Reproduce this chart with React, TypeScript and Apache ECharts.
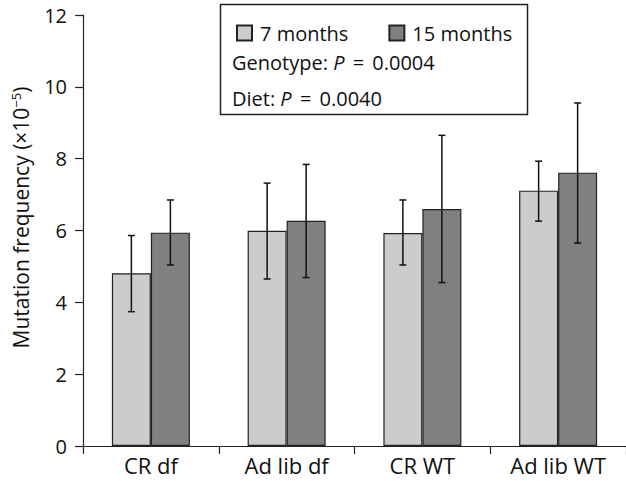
import React, { useEffect, useRef } from "react";
import * as echarts from "echarts";

const categories = ["CR df", "Ad lib df", "CR WT", "Ad lib WT"];
const seriesNames = ["7 months", "15 months"];
const means7 = [4.81, 5.99, 5.93, 7.11];
const means15 = [5.94, 6.27, 6.6, 7.61];
const errHigh7 = [5.86, 7.32, 6.85, 7.93];
const errLow7 = [3.74, 4.65, 5.04, 6.26];
const errHigh15 = [6.85, 7.84, 8.65, 9.55];
const errLow15 = [5.04, 4.69, 4.55, 5.65];
const yTicks = { min: 0, max: 12, interval: 2 };
const statLines = [
  { label: "Genotype: ", p: "0.0004" },
  { label: "Diet: ", p: "0.0040" },
];

const FONT = "Open Sans";
const BAR_W = 39;

function errorSeries(high: number[], low: number[], offset: number) {
  return {
    type: "custom",
    z: 5,
    silent: true,
    data: high.map((h, i) => [i, h, low[i]]),
    renderItem: (params: any, api: any) => {
      const idx = api.value(0);
      const pHi = api.coord([idx, api.value(1)]);
      const pLo = api.coord([idx, api.value(2)]);
      const x = pHi[0] + offset;
      const cap = 3.5;
      const style = { stroke: "#111", lineWidth: 1.5 };
      return {
        type: "group",
        children: [
          { type: "line", shape: { x1: x, y1: pHi[1], x2: x, y2: pLo[1] }, style },
          { type: "line", shape: { x1: x - cap, y1: pHi[1], x2: x + cap, y2: pHi[1] }, style },
          { type: "line", shape: { x1: x - cap, y1: pLo[1], x2: x + cap, y2: pLo[1] }, style },
        ],
      };
    },
  };
}

export default function App() {
  const ref = useRef<HTMLDivElement>(null);
  useEffect(() => {
    if (!ref.current) return;
    const chart = echarts.init(ref.current, undefined, { renderer: "svg" });
    chart.setOption({
      animation: false,
      backgroundColor: "#fff",
      textStyle: { fontFamily: FONT },
      grid: { left: 83, top: 15, bottom: 35, width: 550 },
      legend: {
        data: seriesNames,
        left: 231,
        top: 18,
        itemWidth: 15,
        itemHeight: 15,
        itemGap: 40,
        icon: "rect",
        z: 10,
        textStyle: { fontSize: 20, color: "#111", fontFamily: FONT, padding: [0, 0, 0, 3] },
      },
      xAxis: {
        type: "category",
        data: categories,
        axisLine: { lineStyle: { color: "#222", width: 1.2 } },
        axisTick: { show: true, length: 8, lineStyle: { color: "#222", width: 1.2 } },
        axisLabel: { fontSize: 22, color: "#111", margin: 8 },
      },
      yAxis: {
        type: "value",
        min: yTicks.min,
        max: yTicks.max,
        interval: yTicks.interval,
        name: "Mutation frequency (×10{sup|−5})",
        nameLocation: "middle",
        nameGap: 50,
        nameTextStyle: {
          fontSize: 21,
          color: "#111",
          padding: [0, 0, 0, 26],
          rich: {
            sup: { fontSize: 13, verticalAlign: "top", padding: [0, 0, 11, 0], color: "#111" },
          },
        },
        axisLine: { show: true, lineStyle: { color: "#222", width: 1.2 } },
        axisTick: { show: true, length: 8, lineStyle: { color: "#222", width: 1.2 } },
        axisLabel: { fontSize: 20, color: "#111", margin: 16 },
        splitLine: { show: false },
      },
      graphic: [
        {
          type: "rect",
          z: 1,
          shape: { x: 220.5, y: 4.5, width: 307, height: 110 },
          style: { fill: "#fff", stroke: "#222", lineWidth: 1.5 },
        },
        ...statLines.map((s, i) => ({
          type: "text",
          z: 10,
          x: 232,
          y: 62 + i * 36,
          style: {
            text: `${s.label}{i|P} {eq|=} ${s.p}`,
            fontSize: 20,
            fontFamily: FONT,
            fill: "#111",
            verticalAlign: "middle",
            rich: {
              i: { fontStyle: "italic", fontSize: 20, fontFamily: FONT },
              eq: { fontSize: 20, fontFamily: FONT, padding: [0, 3, 0, 3] },
            },
          },
        })),
      ],
      series: [
        {
          name: seriesNames[0],
          type: "bar",
          data: means7,
          barWidth: BAR_W,
          barGap: "0%",
          itemStyle: { color: "#cccccc", borderColor: "#222", borderWidth: 1.2 },
        },
        {
          name: seriesNames[1],
          type: "bar",
          data: means15,
          barWidth: BAR_W,
          barGap: "0%",
          itemStyle: { color: "#808080", borderColor: "#222", borderWidth: 1.2 },
        },
        errorSeries(errHigh7, errLow7, -BAR_W / 2),
        errorSeries(errHigh15, errLow15, BAR_W / 2),
      ],
    });
    return () => chart.dispose();
  }, []);
  return (
    <div
      ref={ref}
      style={{ position: "absolute", left: 0, top: 0, width: 626, height: 481 }}
    />
  );
}
